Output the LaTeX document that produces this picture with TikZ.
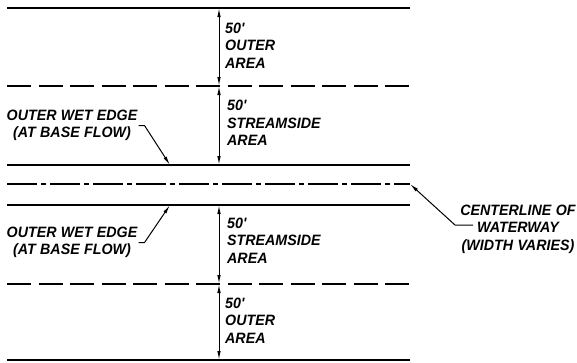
\documentclass[tikz,border=0pt]{standalone}
\usepackage{fontspec}
\newfontfamily\cadfont[FakeStretch=0.95,WordSpace=1.1]{Liberation Sans}
\usetikzlibrary{arrows.meta}

\tikzset{
  edge/.style={line width=1.3pt},
  bankline/.style={line width=1.3pt, dash pattern=on 24pt off 7.5pt},
  centerline/.style={line width=1.1pt, dash pattern=on 30pt off 4pt on 5pt off 4pt},
  dim/.style={line width=1pt, {Latex[length=9pt,width=3.5pt]}-{Latex[length=9pt,width=3.5pt]}},
  leader/.style={line width=1pt, -{Latex[length=9pt,width=3.5pt]}},
  lbl/.style={font=\cadfont\bfseries\itshape\fontsize{15}{17.5}\selectfont, inner sep=1pt},
}

\begin{document}
\begin{tikzpicture}[>=latex, x=1pt, y=-1pt]
\useasboundingbox (0,0) rectangle (577,362);
% zone edges
\draw[edge] (7,8)--(410,8);
\draw[bankline] (7,86)--(410,86);
\draw[edge] (7,165)--(410,165);
\draw[centerline] (7,184)--(410,184);
\draw[edge] (7,205)--(410,205);
\draw[bankline] (7,284)--(410,284);
\draw[edge] (7,360)--(410,360);

% 50' widths
\draw[dim] (219,8)--(219,86);
\draw[dim] (219,86)--(219,165);
\draw[dim] (219,205)--(219,284);
\draw[dim] (219,284)--(219,360);
\node[lbl, anchor=west, align=left] (outerN) at (224,45.5) {50'\\OUTER\\AREA};
\node[lbl, anchor=west, align=left] (streamN) at (226,123) {50'\\STREAMSIDE\\AREA};
\node[lbl, anchor=west, align=left] (streamS) at (226,240.5) {50'\\STREAMSIDE\\AREA};
\node[lbl, anchor=west, align=left] (outerS) at (224,320.5) {50'\\OUTER\\AREA};

% wet edges
\node[lbl, align=center] (wetN) at (72,125.5) {OUTER WET EDGE\\(AT BASE FLOW)};
\node[lbl, align=center] (wetS) at (72,242.5) {OUTER WET EDGE\\(AT BASE FLOW)};
\coordinate (wetNend) at (170,165);
\coordinate (wetSend) at (170,205);
\draw[leader] (wetN.east) -- ++(6,0) -- (wetNend);
\draw[leader] (wetS.east) -- ++(6,0) -- (wetSend);

% centerline
\node[lbl, align=center] (cl) at (518,229) {CENTERLINE OF\\WATERWAY\\(WIDTH VARIES)};
\coordinate (clTail) at (473,225);
\coordinate (clEnd) at (410,184);
\draw[leader] (clTail) -- (455,225) -- (clEnd);
\end{tikzpicture}
\end{document}
